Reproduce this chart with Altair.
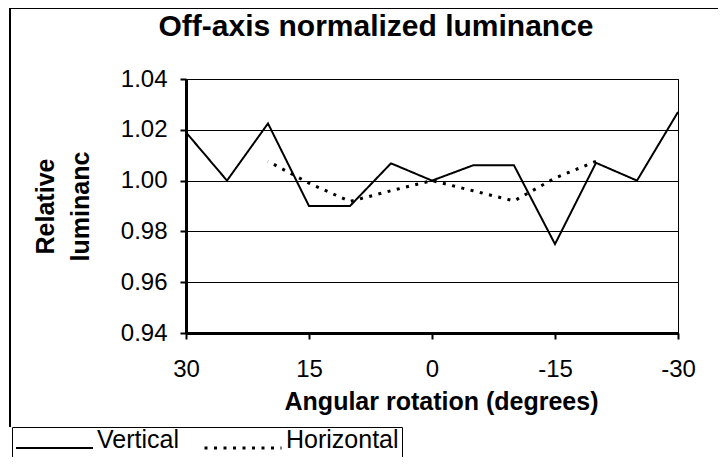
import altair as alt
import pandas as pd

# ---- data ----
angles = [30, 25, 20, 15, 10, 5, 0, -5, -10, -15, -20, -25, -30]
vertical = [1.019, 1.000, 1.0225, 0.990, 0.990, 1.0068, 1.000, 1.006, 1.006, 0.975, 1.007, 1.000, 1.027]

h_angles = [20, 15, 10, 5, 0, -5, -10, -15, -20]
horizontal = [1.0076, 0.999, 0.9918, 0.996, 1.000, 0.996, 0.992, 1.001, 1.0076]

series_names = ["Vertical", "Horizontal"]
x_ticks = [30, 15, 0, -15, -30]
y_ticks = [0.94, 0.96, 0.98, 1.00, 1.02, 1.04]

rows = [{"angle": a, "value": v, "series": "Vertical"} for a, v in zip(angles, vertical)]
rows += [{"angle": a, "value": v, "series": "Horizontal"} for a, v in zip(h_angles, horizontal)]
df = pd.DataFrame(rows)

FONT = "Liberation Sans"

lines = alt.Chart(df).mark_line(color="black", strokeCap="butt").encode(
    x=alt.X("angle:Q",
            scale=alt.Scale(domain=[-30, 30], reverse=True, nice=False, zero=False),
            axis=alt.Axis(values=x_ticks, labelExpr="'' + datum.value", labelFlush=False,
                          labelOverlap=False,
                          title="Angular rotation (degrees)",
                          grid=False, domainWidth=3, domainColor="black",
                          tickSize=6, tickWidth=2, tickColor="black",
                          labelFontSize=24, labelPadding=18, labelFont=FONT, labelColor="black",
                          titleFont=FONT, titleFontSize=25, titleFontWeight="bold", titleColor="black",
                          titleX=255, titleY=68, titleAlign="center", titleBaseline="middle")),
    y=alt.Y("value:Q",
            scale=alt.Scale(domain=[0.94, 1.04], nice=False, zero=False),
            axis=alt.Axis(values=y_ticks, format=".2f", title=["Relative", "luminanc"],
                          labelFlush=False, labelOverlap=False,
                          grid=True, gridColor="black", gridWidth=1, gridOpacity=1,
                          domainWidth=3, domainColor="black",
                          tickSize=6, tickWidth=2, tickColor="black",
                          labelFontSize=24, labelPadding=13, labelFont=FONT, labelColor="black",
                          titleFont=FONT, titleFontSize=25, titleFontWeight="bold", titleColor="black",
                          titleAngle=-90, titleX=-141, titleY=127, titleAlign="center",
                          titleBaseline="middle", titleLineHeight=35)),
    strokeDash=alt.StrokeDash("series:N",
                              scale=alt.Scale(domain=series_names, range=[[1, 0], [3, 6.5]]),
                              legend=alt.Legend(title=None, orient="none", legendX=-174, legendY=348,
                                                direction="horizontal", symbolType="stroke",
                                                symbolSize=5929, clipHeight=36,
                                                symbolStrokeColor="black", symbolStrokeWidth=2.5,
                                                labelFont=FONT, labelFontSize=25, labelColor="black",
                                                labelBaseline="alphabetic",
                                                labelOffset=3, columnPadding=24, padding=3,
                                                strokeColor="black", fillColor="white",
                                                cornerRadius=0)),
    strokeWidth=alt.StrokeWidth("series:N",
                                scale=alt.Scale(domain=series_names, range=[2, 3]),
                                legend=None),
    order="angle:Q",
)

frame_left = alt.Chart(df).mark_rule(color="black", strokeWidth=1).encode(
    x=alt.value(-176), y=alt.value(-71), y2=alt.value(348))
frame_top = alt.Chart(df).mark_rule(color="black", strokeWidth=2).encode(
    x=alt.value(-176), x2=alt.value(540), y=alt.value(-71), y2=alt.value(-71))

chart = alt.layer(frame_left, frame_top, lines).properties(
    width=492, height=254,
    autosize=alt.AutoSizeParams(type="none"),
    padding={"left": 178, "top": 71, "right": 40, "bottom": 124},
    title=alt.TitleParams("Off-axis normalized luminance", font=FONT, fontSize=30,
                          fontWeight="bold", color="black", anchor="middle",
                          baseline="alphabetic", dx=-56, offset=-59),
).configure_view(stroke="black", strokeWidth=1)

chart.save("out.html", embed_options={"renderer": "svg", "actions": False})
